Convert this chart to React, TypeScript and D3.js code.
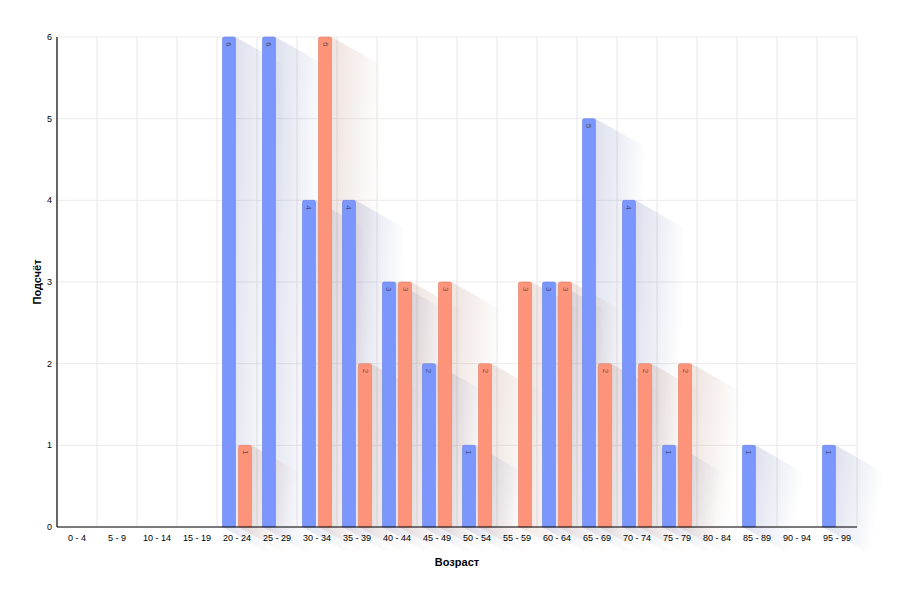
import * as d3 from 'd3';

const categories = [
  '0 - 4', '5 - 9', '10 - 14', '15 - 19', '20 - 24', '25 - 29', '30 - 34',
  '35 - 39', '40 - 44', '45 - 49', '50 - 54', '55 - 59', '60 - 64', '65 - 69',
  '70 - 74', '75 - 79', '80 - 84', '85 - 89', '90 - 94', '95 - 99',
];
const blueValues = [0, 0, 0, 0, 6, 6, 4, 4, 3, 2, 1, 0, 3, 5, 4, 1, 0, 1, 0, 1];
const orangeValues = [0, 0, 0, 0, 1, 0, 6, 2, 3, 3, 2, 3, 3, 2, 2, 2, 0, 0, 0, 0];
const yTicks = [0, 1, 2, 3, 4, 5, 6];

const WIDTH = 910;
const HEIGHT = 601;
const MARGIN = { top: 37, right: 53, bottom: 74, left: 57 };
const FONT = '"Liberation Sans", Arial, sans-serif';

const SERIES = [
  { key: 'blue', values: blueValues, fill: '#7b96fd', stroke: '#6a84e6', shadow: '#3a4a9a' },
  { key: 'orange', values: orangeValues, fill: '#fd9378', stroke: '#e8826a', shadow: '#9a5a40' },
];

// shadow extrusion
const SHADOW_DX = 48;
const SHADOW_DY = 27;

export default function App() {
  const boundsWidth = WIDTH - MARGIN.left - MARGIN.right;
  const boundsHeight = HEIGHT - MARGIN.top - MARGIN.bottom;

  const xScale = d3.scaleBand().domain(categories).range([0, boundsWidth]).padding(0);
  const innerScale = d3
    .scaleBand()
    .domain(SERIES.map((s) => s.key))
    .range([0, xScale.bandwidth()])
    .paddingInner(3 / 16)
    .paddingOuter(0.34);
  const yScale = d3.scaleLinear().domain([0, 6]).range([boundsHeight, 0]);

  const bars = SERIES.flatMap((s) =>
    s.values.map((v, i) => ({ series: s, value: v, category: categories[i] }))
  ).filter((b) => b.value > 0);

  const barRect = (b: (typeof bars)[number]) => {
    const x0 = (xScale(b.category) ?? 0) + (innerScale(b.series.key) ?? 0);
    const x1 = x0 + innerScale.bandwidth();
    const top = yScale(b.value);
    const bottom = yScale(0);
    return { x0, x1, top, bottom };
  };

  return (
    <svg width={WIDTH} height={HEIGHT} style={{ display: 'block', position: 'absolute', left: 0, top: 0 }}>
      <defs>
        {SERIES.map((s) => (
          <linearGradient key={s.key} id={`shadow-${s.key}`} x1='0' y1='0' x2='1' y2='0.3'>
            <stop offset='0' stopColor={s.shadow} stopOpacity={0.2} />
            <stop offset='0.3' stopColor={s.shadow} stopOpacity={0.15} />
            <stop offset='1' stopColor={s.shadow} stopOpacity={0} />
          </linearGradient>
        ))}
      </defs>
      <g transform={`translate(${MARGIN.left},${MARGIN.top})`}>
        {/* grid */}
        {yTicks.map((t) => (
          <line key={`gy${t}`} x1={0} x2={boundsWidth} y1={yScale(t)} y2={yScale(t)} stroke='#ebebeb' />
        ))}
        {categories.map((c, i) =>
          i === 0 ? null : (
            <line key={`gx${c}`} x1={xScale(c)} x2={xScale(c)} y1={0} y2={boundsHeight} stroke='#e6e6e6' />
          )
        )}
        <line x1={boundsWidth} x2={boundsWidth} y1={0} y2={boundsHeight} stroke='#e6e6e6' />

        {/* shadows */}
        {bars.map((b, i) => {
          const { x0, x1, top, bottom } = barRect(b);
          const pts = [
            [x0, top],
            [x1, top],
            [x1 + SHADOW_DX, top + SHADOW_DY],
            [x1 + SHADOW_DX, bottom + SHADOW_DY],
            [x0 + SHADOW_DX, bottom + SHADOW_DY],
            [x0, bottom],
          ];
          return (
            <polygon
              key={`sh${i}`}
              points={pts.map((p) => p.join(',')).join(' ')}
              fill={`url(#shadow-${b.series.key})`}
            />
          );
        })}

        {/* bars */}
        {bars.map((b, i) => {
          const { x0, x1, top, bottom } = barRect(b);
          const w = x1 - x0;
          const r = 2;
          const d = `M${x0},${bottom}V${top + r}Q${x0},${top} ${x0 + r},${top}H${x1 - r}Q${x1},${top} ${x1},${top + r}V${bottom}Z`;
          return (
            <g key={`b${i}`}>
              <path d={d} fill={b.series.fill} stroke={b.series.stroke} strokeWidth={0.6} />
              <text
                transform={`translate(${x0 + w / 2},${top + 5}) rotate(90)`}
                fontSize={8}
                fontFamily={FONT}
                fill='#333'
                fillOpacity={0.75}
                dominantBaseline='central'
              >
                {b.value}
              </text>
            </g>
          );
        })}

        {/* axes */}
        <line x1={0} x2={0} y1={0} y2={boundsHeight} stroke='#000' strokeWidth={1.2} />
        <line x1={0} x2={boundsWidth} y1={boundsHeight} y2={boundsHeight} stroke='#000' strokeWidth={1.2} />

        {yTicks.map((t) => (
          <text
            key={`yt${t}`}
            x={-5}
            y={yScale(t)}
            textAnchor='end'
            dominantBaseline='central'
            fontSize={9}
            fontFamily={FONT}
            fill='#000'
          >
            {t}
          </text>
        ))}
        {categories.map((c) => (
          <text
            key={`xt${c}`}
            x={(xScale(c) ?? 0) + xScale.bandwidth() / 2}
            y={boundsHeight + 14}
            textAnchor='middle'
            fontSize={9}
            fontFamily={FONT}
            fill='#000'
          >
            {c}
          </text>
        ))}

        <text
          x={boundsWidth / 2}
          y={boundsHeight + 39}
          textAnchor='middle'
          fontSize={11}
          fontWeight='bold'
          fontFamily={FONT}
          fill='#000'
        >
          Возраст
        </text>
        <text
          transform={`translate(-16,${boundsHeight / 2}) rotate(-90)`}
          textAnchor='middle'
          fontSize={11}
          fontWeight='bold'
          fontFamily={FONT}
          fill='#000'
        >
          Подсчёт
        </text>
      </g>
    </svg>
  );
}
